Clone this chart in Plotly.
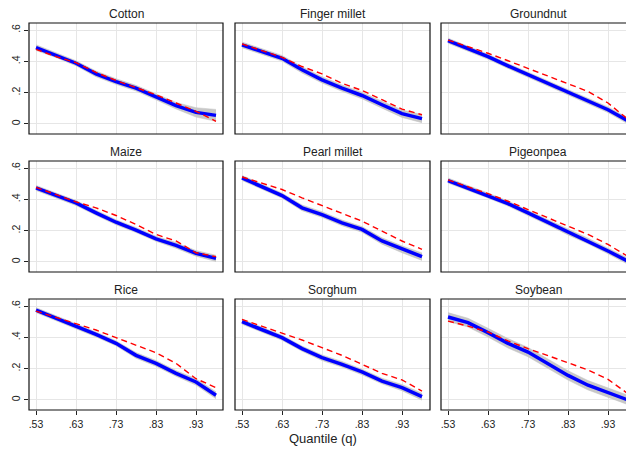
import plotly.graph_objects as go

W, H = 626, 455

quantiles = [0.53, 0.58, 0.63, 0.68, 0.73, 0.78, 0.83, 0.88, 0.93, 0.98]
crops = ["Cotton", "Finger millet", "Groundnut", "Maize", "Pearl millet",
         "Pigeonpea", "Rice", "Sorghum", "Soybean"]

cotton_est = [0.488, 0.440, 0.388, 0.320, 0.271, 0.229, 0.172, 0.117, 0.074, 0.055]
cotton_ref = [0.477, 0.430, 0.392, 0.329, 0.278, 0.235, 0.187, 0.134, 0.081, 0.017]
cotton_ci = [0.018, 0.016, 0.016, 0.018, 0.018, 0.018, 0.018, 0.021, 0.030, 0.038]

finger_est = [0.505, 0.462, 0.420, 0.346, 0.282, 0.229, 0.182, 0.123, 0.066, 0.034]
finger_ref = [0.511, 0.468, 0.426, 0.367, 0.320, 0.260, 0.214, 0.155, 0.095, 0.059]
finger_ci = [0.018, 0.018, 0.018, 0.020, 0.020, 0.020, 0.021, 0.022, 0.024, 0.026]

groundnut_est = [0.532, 0.482, 0.430, 0.371, 0.314, 0.257, 0.201, 0.146, 0.091, 0.020]
groundnut_ref = [0.536, 0.494, 0.452, 0.404, 0.356, 0.308, 0.261, 0.208, 0.134, 0.030]
groundnut_ci = [0.016, 0.016, 0.016, 0.016, 0.016, 0.016, 0.016, 0.018, 0.018, 0.020]

maize_est = [0.473, 0.426, 0.377, 0.314, 0.254, 0.204, 0.148, 0.106, 0.055, 0.023]
maize_ref = [0.477, 0.430, 0.384, 0.346, 0.297, 0.240, 0.176, 0.134, 0.059, 0.034]
maize_ci = [0.016, 0.016, 0.016, 0.016, 0.016, 0.016, 0.016, 0.018, 0.018, 0.020]

pearl_est = [0.537, 0.483, 0.424, 0.346, 0.303, 0.250, 0.208, 0.134, 0.081, 0.034]
pearl_ref = [0.543, 0.504, 0.463, 0.410, 0.361, 0.310, 0.261, 0.197, 0.134, 0.081]
pearl_ci = [0.016, 0.016, 0.016, 0.018, 0.018, 0.018, 0.018, 0.020, 0.022, 0.024]

pigeon_est = [0.520, 0.473, 0.424, 0.373, 0.314, 0.254, 0.191, 0.134, 0.070, 0.005]
pigeon_ref = [0.524, 0.482, 0.437, 0.388, 0.335, 0.282, 0.233, 0.176, 0.112, 0.035]
pigeon_ci = [0.016, 0.016, 0.016, 0.016, 0.016, 0.018, 0.018, 0.018, 0.018, 0.020]

rice_est = [0.574, 0.523, 0.472, 0.419, 0.362, 0.285, 0.234, 0.170, 0.115, 0.030]
rice_ref = [0.568, 0.526, 0.487, 0.447, 0.398, 0.349, 0.302, 0.234, 0.136, 0.079]
rice_ci = [0.016, 0.016, 0.016, 0.016, 0.016, 0.018, 0.018, 0.018, 0.020, 0.022]

sorghum_est = [0.500, 0.450, 0.398, 0.328, 0.270, 0.228, 0.179, 0.121, 0.079, 0.021]
sorghum_ref = [0.515, 0.472, 0.430, 0.383, 0.334, 0.285, 0.228, 0.170, 0.128, 0.057]
sorghum_ci = [0.016, 0.016, 0.016, 0.016, 0.018, 0.018, 0.018, 0.018, 0.020, 0.022]

soybean_est = [0.530, 0.494, 0.430, 0.362, 0.306, 0.234, 0.157, 0.094, 0.047, 0.000]
soybean_ref = [0.504, 0.472, 0.434, 0.377, 0.328, 0.285, 0.238, 0.191, 0.132, 0.040]
soybean_ci = [0.028, 0.028, 0.028, 0.030, 0.030, 0.030, 0.030, 0.030, 0.030, 0.030]

estimates = [cotton_est, finger_est, groundnut_est, maize_est, pearl_est,
             pigeon_est, rice_est, sorghum_est, soybean_est]
references = [cotton_ref, finger_ref, groundnut_ref, maize_ref, pearl_ref,
              pigeon_ref, rice_ref, sorghum_ref, soybean_ref]
ci_half = [cotton_ci, finger_ci, groundnut_ci, maize_ci, pearl_ci,
           pigeon_ci, rice_ci, sorghum_ci, soybean_ci]

x_tickvals = [0.53, 0.63, 0.73, 0.83, 0.93]
x_ticktext = [".53", ".63", ".73", ".83", ".93"]
y_tickvals = [0, 0.2, 0.4, 0.6]
y_ticktext = ["0", ".2", ".4", ".6"]

# layout in pixels
col_px = [(29, 223), (235, 430), (441, 635)]
row_px = [(23, 134), (161, 272), (299, 410)]
x_lo = 0.5125
px_per_unit = 400.0
y_range = [-0.064, 0.645]

font = "Liberation Sans, Arial, Helvetica, sans-serif"
fig = go.Figure()
layout = dict(width=W, height=H, margin=dict(l=0, r=0, t=0, b=0),
              paper_bgcolor="white", plot_bgcolor="white", showlegend=False,
              font=dict(family=font, color="#222222"))
shapes = []
annotations = []

for i, name in enumerate(crops):
    r, c = divmod(i, 3)
    k = i + 1
    xa = "x" if k == 1 else f"x{k}"
    ya = "y" if k == 1 else f"y{k}"
    x0p, x1p = col_px[c]
    y0p, y1p = row_px[r]
    x1clip = min(x1p, W)
    xdom = [x0p / W, x1clip / W]
    ydom = [1 - y1p / H, 1 - y0p / H]
    xr = [x_lo, x_lo + (x1clip - x0p) / px_per_unit]

    est = estimates[i]
    ref = references[i]
    hw = ci_half[i]
    lo = [e - h for e, h in zip(est, hw)]
    hi = [e + h for e, h in zip(est, hw)]

    fig.add_trace(go.Scatter(x=quantiles, y=lo, xaxis=xa, yaxis=ya, mode="lines",
                             line=dict(width=0.5, color="#c2c2c2"), hoverinfo="skip"))
    fig.add_trace(go.Scatter(x=quantiles, y=hi, xaxis=xa, yaxis=ya, mode="lines",
                             line=dict(width=0.5, color="#c2c2c2"), fill="tonexty",
                             fillcolor="#c8c8c8", hoverinfo="skip"))
    fig.add_trace(go.Scatter(x=quantiles, y=est, xaxis=xa, yaxis=ya, mode="lines",
                             line=dict(width=3.5, color="#0000ff")))
    fig.add_trace(go.Scatter(x=quantiles, y=ref, xaxis=xa, yaxis=ya, mode="lines",
                             line=dict(width=1.4, color="#ff0000", dash="6px,4px")))

    xkey = "xaxis" if k == 1 else f"xaxis{k}"
    ykey = "yaxis" if k == 1 else f"yaxis{k}"
    bottom = (r == 2)
    left = (c == 0)
    layout[xkey] = dict(domain=xdom, range=xr, anchor=ya, tickvals=x_tickvals,
                        ticktext=x_ticktext, showticklabels=bottom,
                        ticks="outside" if bottom else "", ticklen=4, tickcolor="#222222",
                        showgrid=True, gridcolor="#e6e6e6", gridwidth=1,
                        zeroline=False, showline=False,
                        tickfont=dict(size=10.5, family=font, color="#222222"))
    layout[ykey] = dict(domain=ydom, range=y_range, anchor=xa, tickvals=y_tickvals,
                        ticktext=y_ticktext, showticklabels=left,
                        ticks="outside" if left else "", ticklen=4, tickcolor="#222222",
                        tickangle=-90,
                        showgrid=True, gridcolor="#e6e6e6", gridwidth=1,
                        zeroline=False, showline=False,
                        tickfont=dict(size=10.5, family=font, color="#222222"))
    shapes.append(dict(type="rect", xref="paper", yref="paper",
                       x0=x0p / W, x1=x1p / W, y0=1 - y1p / H, y1=1 - y0p / H,
                       line=dict(color="#111111", width=1.2), layer="above"))
    annotations.append(dict(text=name, xref="paper", yref="paper",
                            x=((x0p + x1p) / 2) / W, y=1 - (y0p - 9) / H,
                            xanchor="center", yanchor="middle", showarrow=False,
                            font=dict(size=12, family=font, color="#222222")))

annotations.append(dict(text="Quantile (q)", xref="paper", yref="paper",
                        x=323 / W, y=1 - 438 / H, xanchor="center", yanchor="middle",
                        showarrow=False, font=dict(size=13, family=font, color="#222222")))
layout["shapes"] = shapes
layout["annotations"] = annotations
fig.update_layout(**layout)
fig.write_html("out.html")
